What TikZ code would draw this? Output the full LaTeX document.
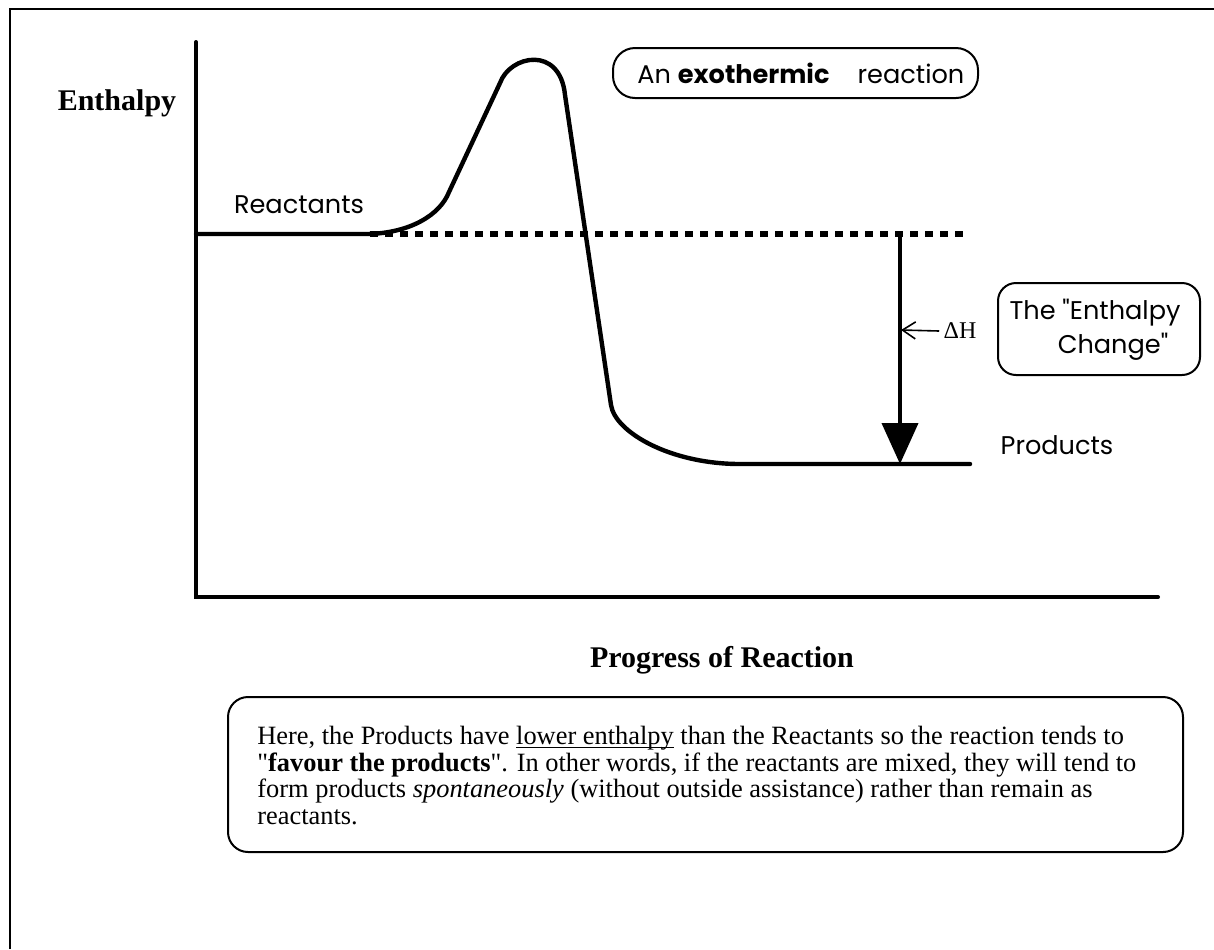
\documentclass[tikz,border=0pt]{standalone}
\usepackage{fontspec}
\setmainfont{Liberation Serif}
\newfontfamily\gothic{Poppins}
\usetikzlibrary{arrows.meta}
\newcommand\lowul[1]{\setbox0\hbox{#1}\rlap{\rule[-1.6pt]{\wd0}{0.55pt}}#1}
\begin{document}
\begin{tikzpicture}[x=0.5pt,y=-0.5pt,
  axis/.style={line width=2pt,line cap=round},
  curve/.style={line width=2.2pt,line join=round,line cap=round},
  dotline/.style={line width=3pt,dash pattern=on 4pt off 3.5pt},
  rbox/.style={draw,line width=1pt,inner sep=0pt},
  glab/.style={font=\gothic\fontsize{12.8}{14}\selectfont,inner sep=0pt},
  tlab/.style={font=\bfseries\fontsize{15}{17}\selectfont,inner sep=0pt},
]
\useasboundingbox (0,0) rectangle (1214,949);
% frame
\draw[line width=1.2pt] (10,949) -- (10,9) -- (1214,9);
% axes
\coordinate (ytop) at (196,42);
\coordinate (orig) at (196,597);
\coordinate (xend) at (1158,597);
\draw[axis] (ytop) -- (orig) -- (xend);
\node[tlab] (ylab) at (117,103) {Enthalpy};
\node[tlab] (xlab) at (722,660) {Progress of Reaction};
% energy curve
\coordinate (rstart) at (196,234);
\coordinate (pend) at (970,464);
\draw[curve] (rstart) -- (368,234) .. controls (410,233) and (440,215) .. (449,192)
  -- (500,83) .. controls (510,55) and (560,45) .. (565,95)
  -- (611,405) .. controls (615,432) and (670,464) .. (740,464) -- (pend);
% dotted reactant level
\coordinate (dl) at (370,234);
\coordinate (dr) at (968,234);
\draw[dotline] (dl) -- (dr);
% labels
\node[glab] (reac) at (299,205) {Reactants};
\node[glab] (prod) at (1057,445) {Products};
% Delta H arrow
\coordinate (dtop) at (900,234);
\coordinate (dbot) at (900,464);
\coordinate (dmid) at (901,330);
\draw[line width=2pt,-{Triangle[width=18pt,length=20.5pt]}] (dtop) -- (dbot);
\node[inner sep=0pt,font=\fontsize{12}{14}\selectfont] (dh) at (960,331) {ΔH};
\draw[line width=0.8pt,-{Straight Barb[length=6.5pt,width=8.5pt]}] ([xshift=-2pt]dh.west) -- (dmid);
% exothermic box
\node[rbox,rounded corners=11pt,minimum width=182.5pt,minimum height=25pt] (exo) at (795.5,73) {};
\node[glab,anchor=west] (exotxt) at (637,73) {An \textbf{exothermic}\hspace{1.1em}reaction};
% enthalpy change box
\node[rbox,rounded corners=9pt,minimum width=101pt,minimum height=46pt] (ecb) at (1099,329) {};
\node[glab] (ec1) at (1095,313) {The \textquotedbl Enthalpy};
\node[glab] (ec2) at (1113,347) {Change\textquotedbl};
% bottom note
\node[rbox,rounded corners=10pt,minimum width=477.5pt,minimum height=77.5pt] (noteb) at (705.5,774.5) {};
\node[anchor=north west,inner sep=0pt,align=left,font=\fontsize{13.2}{13.3}\selectfont] (note) at (257,726)
{Here, the Products have \lowul{lower enthalpy} than the Reactants so the reaction tends to\\
\textquotedbl\textbf{favour the products}\textquotedbl. In other words, if the reactants are mixed, they will tend to\\
form products \textit{spontaneously} (without outside assistance) rather than remain as\\
reactants.};
\end{tikzpicture}
\end{document}
